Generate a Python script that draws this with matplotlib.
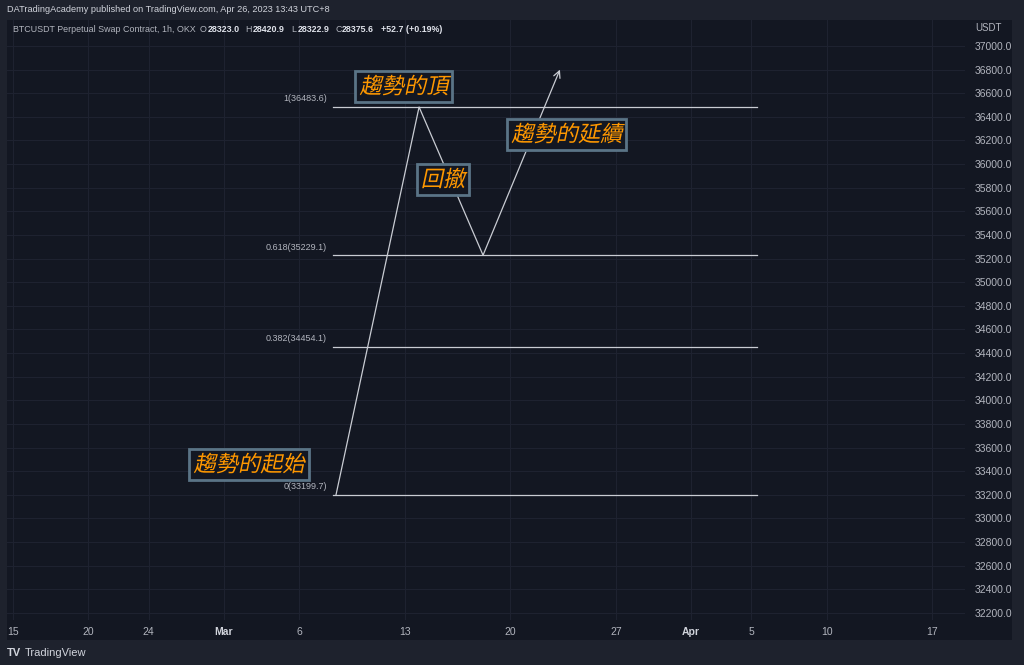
import numpy as np
import pandas as pd
import matplotlib
matplotlib.use("Agg")
import matplotlib.pyplot as plt
from matplotlib.patches import Rectangle
from matplotlib.patheffects import AbstractPathEffect
from matplotlib.transforms import Affine2D

# ---- data ----
tick_dates = ['2023-02-15', '2023-02-20', '2023-02-24', '2023-03-01', '2023-03-06',
              '2023-03-13', '2023-03-20', '2023-03-27', '2023-04-01', '2023-04-05',
              '2023-04-10', '2023-04-17']
tick_labels = ['15', '20', '24', 'Mar', '6', '13', '20', '27', 'Apr', '5', '10', '17']
month_labels = ['Mar', 'Apr']

price_ticks = np.arange(32200, 37001, 200)

# trend path: start -> top -> pullback low -> continuation (arrow)
trend_dates = ['2023-03-08 10:20', '2023-03-13 22:40', '2023-03-18 04:30', '2023-03-23 07:00']
trend_prices = [33199.7, 36483.6, 35229.1, 36800.0]

fib_levels = [1, 0.618, 0.382, 0]
fib_prices = [36483.6, 35229.1, 34454.1, 33199.7]
fib_start = '2023-03-08 05:30'
fib_end = '2023-04-05 09:00'

note_texts = ['趨勢的頂', '回撤', '趨勢的延續', '趨勢的起始']
note_dates = ['2023-03-12 22:30', '2023-03-15 12:45', '2023-03-23 18:00', '2023-03-02 16:00']
note_prices = [36653, 35866, 36247, 33453]

header = "DATradingAcademy published on TradingView.com, Apr 26, 2023 13:43 UTC+8"
symbol = "BTCUSDT Perpetual Swap Contract, 1h, OKX"
ohlc_keys = ['O', 'H', 'L', 'C']
ohlc_vals = ['28323.0', '28420.9', '28322.9', '28375.6']
change = '+52.7 (+0.19%)'

# ---- colours ----
OUTER = '#1e222d'
PANE = '#131722'
GRID = '#1e2230'
LABEL = '#b2b5be'
LINE = '#c9ccd3'
ORANGE = '#ff9800'
BOX_EDGE = '#5a7486'


class Slant(AbstractPathEffect):
    """fake italic for fonts without an oblique face"""
    def __init__(self, deg=12):
        super().__init__()
        self._skew = Affine2D().skew_deg(deg, 0)

    def draw_path(self, renderer, gc, tpath, affine, rgbFace=None):
        renderer.draw_path(gc, tpath, self._skew + affine, rgbFace)


W, H = 1024, 665
fig = plt.figure(figsize=(W / 100, H / 100), dpi=100, facecolor=OUTER)
plt.rcParams['font.family'] = ['Liberation Sans', 'DejaVu Sans']

# dark chart block (pane + price scale + time scale)
fig.patches.append(Rectangle((7 / W, 1 - 640 / H), (1012 - 7) / W, (640 - 20) / H,
                             transform=fig.transFigure, facecolor=PANE,
                             edgecolor='none', zorder=-10))

ax = fig.add_axes([7 / W, 1 - 620 / H, (965 - 7) / W, (620 - 20) / H])
ax.set_facecolor(PANE)
for s in ax.spines.values():
    s.set_visible(False)

mar1 = pd.Timestamp('2023-03-01')
ax.set_xlim(mar1 - pd.Timedelta(days=14.40), mar1 + pd.Timedelta(days=49.17))
ax.set_ylim(32140.7, 37220.1)

ticks_x = pd.to_datetime(tick_dates)
ax.set_xticks(ticks_x)
ax.set_xticklabels(tick_labels)
for lab in ax.get_xticklabels():
    lab.set_color(LABEL)
    if lab.get_text() in month_labels:
        lab.set_color('#d1d4dc')
        lab.set_fontweight('bold')
ax.tick_params(axis='x', length=0, pad=5, labelsize=7.5)

ax.yaxis.tick_right()
ax.set_yticks(price_ticks)
ax.set_yticklabels([f"{p:.1f}" for p in price_ticks])
ax.tick_params(axis='y', length=0, pad=7, labelsize=7.5, labelcolor=LABEL)
ax.grid(True, color=GRID, linewidth=0.8)
ax.set_axisbelow(True)

# fib retracement levels
fs, fe = pd.Timestamp(fib_start), pd.Timestamp(fib_end)
for lvl, p in zip(fib_levels, fib_prices):
    ax.plot([fs, fe], [p, p], color=LINE, linewidth=0.9, zorder=3)
    ax.annotate(f"{lvl}({p})", xy=(fs, p), xytext=(-6, 8), textcoords='offset pixels',
                ha='right', va='center', fontsize=6.5, color=LABEL)

# trend path
td = pd.to_datetime(trend_dates)
ax.plot(td[:3], trend_prices[:3], color=LINE, linewidth=0.9, zorder=3)
ax.annotate('', xy=(td[3], trend_prices[3]), xytext=(td[2], trend_prices[2]),
            arrowprops=dict(arrowstyle='->', color=LINE, lw=0.9,
                            shrinkA=0, shrinkB=0, mutation_scale=12), zorder=3)

# notes
for t, d, p in zip(note_texts, note_dates, note_prices):
    txt = ax.text(pd.Timestamp(d), p, t, ha='center', va='center', fontsize=16,
                  color=ORANGE, family=['Noto Sans CJK TC', 'DejaVu Sans'], zorder=5,
                  bbox=dict(boxstyle='square,pad=0.18', facecolor=PANE,
                            edgecolor=BOX_EDGE, linewidth=2))
    txt.set_path_effects([Slant(12)])

# header texts
fig.text(7 / W, 1 - 10 / H, header, ha='left', va='center', fontsize=6.6, color='#d1d4dc')
fig.text(13 / W, 1 - 30 / H, symbol, ha='left', va='center', fontsize=6.4, color=LABEL)
key_x = [200, 245, 291, 335]
val_x = [208, 253, 298, 342]
for k, v, kx, vx in zip(ohlc_keys, ohlc_vals, key_x, val_x):
    fig.text(kx / W, 1 - 30 / H, k, ha='left', va='center', fontsize=6.4, color=LABEL)
    fig.text(vx / W, 1 - 30 / H, v, ha='left', va='center', fontsize=6.4,
             color='#e0e3eb', fontweight='bold')
fig.text(381 / W, 1 - 30 / H, change, ha='left', va='center', fontsize=6.4,
         color='#e0e3eb', fontweight='bold')

fig.text(975 / W, 1 - 28 / H, 'USDT', ha='left', va='center', fontsize=7, color=LABEL)

# footer logo
fig.text(7 / W, 1 - 653 / H, 'TV', ha='left', va='center', fontsize=8, color='#d1d4dc',
         fontweight='bold')
fig.text(25 / W, 1 - 653 / H, 'TradingView', ha='left', va='center', fontsize=8, color='#d1d4dc')

fig.savefig('out.png', dpi=100, facecolor=OUTER)
